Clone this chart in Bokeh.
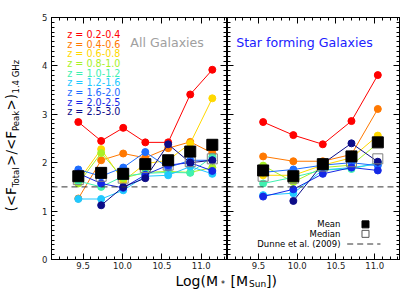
import math
import numpy as np
from bokeh.plotting import figure
from bokeh.layouts import row, column
from bokeh.models import (Range1d, LinearAxis, SingleIntervalTicker, Label, Span,
                          PrintfTickFormatter)
from bokeh.embed import file_html
from bokeh.resources import INLINE

FONT = "DejaVu Sans"
nan = float("nan")

# ---------------- data ----------------
z_labels = ["0.2-0.4", "0.4-0.6", "0.6-0.8", "0.8-1.0", "1.0-1.2",
            "1.2-1.6", "1.6-2.0", "2.0-2.5", "2.5-3.0"]
z_colors = ["#ff0000", "#ff7800", "#ffd800", "#a8f028", "#40f0b0",
            "#20c8ff", "#1e6eff", "#1428e6", "#0c0c88"]

# All galaxies (left panel)
x_all = [9.44, 9.73, 10.01, 10.29, 10.58, 10.86, 11.14]
all_z02_04 = [2.84, 2.45, 2.72, 2.42, 2.42, 3.41, 3.92]
all_z04_06 = [1.26, 2.05, 2.19, 2.10, 2.30, 2.43, 2.20]
all_z06_08 = [1.62, 2.28, 1.62, 1.98, 2.05, 2.40, 3.33]
all_z08_10 = [1.57, 2.20, 1.68, 1.80, 1.82, 1.80, 1.90]
all_z10_12 = [1.62, 1.50, 1.72, 1.78, 1.80, 1.79, 2.12]
all_z12_16 = [1.25, 1.25, 1.43, 1.72, 1.74, 1.92, 1.77]
all_z16_20 = [1.86, 1.72, 1.90, 2.22, 1.90, 2.05, 2.05]
all_z20_25 = [1.78, 1.57, 1.48, 1.75, 1.95, 2.00, 1.83]
all_z25_30 = [nan, 1.12, 1.50, 1.68, 2.38, 2.00, 2.05]
all_mean = [1.72, 1.79, 1.77, 1.97, 2.05, 2.23, 2.37]
all_median = [1.65, 1.72, 1.68, 1.90, 1.95, 2.02, 2.08]

# Star forming galaxies (right panel)
x_sf = [9.56, 9.95, 10.33, 10.70, 11.04]
sf_z02_04 = [2.84, 2.57, 2.38, 2.86, 3.81]
sf_z04_06 = [2.13, 2.03, 2.03, 2.17, 3.11]
sf_z06_08 = [1.74, 1.74, 1.95, 2.10, 2.56]
sf_z08_10 = [1.94, 1.60, 1.90, 1.95, 2.40]
sf_z10_12 = [1.57, 1.70, 1.85, 1.87, 2.00]
sf_z12_16 = [1.33, 1.37, 1.85, 1.90, 1.97]
sf_z16_20 = [1.80, 1.86, 1.95, 2.00, 1.94]
sf_z20_25 = [1.30, 1.45, 1.77, 1.90, 1.84]
sf_z25_30 = [nan, 1.21, 1.98, 2.40, 2.02]
sf_mean = [1.84, 1.72, 1.97, 2.13, 2.42]
sf_median = [1.72, 1.68, 1.93, 2.02, 2.08]

dunne_ratio = 1.5
x_ticks_interval = 0.5
y_ticks_interval = 1

all_series = [all_z02_04, all_z04_06, all_z06_08, all_z08_10, all_z10_12,
              all_z12_16, all_z16_20, all_z20_25, all_z25_30]
sf_series = [sf_z02_04, sf_z04_06, sf_z06_08, sf_z08_10, sf_z10_12,
             sf_z12_16, sf_z16_20, sf_z20_25, sf_z25_30]

X0, X1 = 9.1, 11.32
TICK_FS = "8.5px"
PANEL_H = 272


def make_axis(kind, labels):
    if kind == "x":
        ticker = SingleIntervalTicker(interval=x_ticks_interval, num_minor_ticks=5)
    else:
        ticker = SingleIntervalTicker(interval=y_ticks_interval, num_minor_ticks=10)
    ax = LinearAxis(ticker=ticker, major_tick_in=6, major_tick_out=0,
                    minor_tick_in=3, minor_tick_out=0,
                    axis_line_color="black", major_tick_line_color="black",
                    minor_tick_line_color="black")
    if kind == "x":
        ax.formatter = PrintfTickFormatter(format="%.1f")
    if labels:
        ax.major_label_text_font = FONT
        ax.major_label_text_font_size = TICK_FS
        ax.major_label_text_color = "#222222"
        ax.major_label_standoff = 2 if kind == "x" else 4
    else:
        ax.major_label_text_color = None
        ax.major_label_standoff = 0
    return ax


def panel(width, bl, br, xs, series, mean, median, left_labels):
    p = figure(width=width, height=PANEL_H, x_range=Range1d(X0, X1),
               y_range=Range1d(0, 5), output_backend="svg",
               toolbar_location=None, x_axis_location=None,
               y_axis_location=None, min_border_left=bl,
               min_border_right=br, min_border_top=17,
               min_border_bottom=PANEL_H - 259)
    p.grid.grid_line_color = None
    p.outline_line_color = "black"
    p.outline_line_width = 1
    p.background_fill_color = "white"
    p.border_fill_color = "white"
    p.add_layout(make_axis("x", True), "below")
    p.add_layout(make_axis("x", False), "above")
    p.add_layout(make_axis("y", left_labels), "left")
    p.add_layout(make_axis("y", False), "right")
    p.add_layout(Span(location=dunne_ratio, dimension="width",
                      line_color="#333333", line_dash="6 4", line_width=1))
    for ys, c in zip(series, z_colors):
        p.line(xs, ys, line_color=c, line_width=1)
        p.scatter(xs, ys, size=7, marker="circle", fill_color=c, line_color=c)
    p.scatter(xs, median, size=10, marker="square", fill_color=None,
              line_color="#7f7f7f", line_width=1)
    p.scatter(xs, mean, size=11, marker="square", fill_color="black",
              line_color="black")
    return p


def blank(width, height, x0, x1, y0, y1):
    b = figure(width=width, height=height, x_range=Range1d(x0, x1),
               y_range=Range1d(y0, y1), output_backend="svg",
               toolbar_location=None, x_axis_location=None,
               y_axis_location=None, min_border=0, min_border_left=0,
               min_border_right=0, min_border_top=0, min_border_bottom=0)
    b.grid.grid_line_color = None
    b.outline_line_color = None
    b.background_fill_color = "white"
    b.border_fill_color = "white"
    return b


P0_W = 24
p1 = panel(227 - P0_W, 51 - P0_W, 1, x_all, all_series, all_mean, all_median, True)
p2 = panel(180, 0, 8, x_sf, sf_series, sf_mean, sf_median, False)

# ---- left panel annotations ----
for i, (zl, c) in enumerate(zip(z_labels, z_colors)):
    p1.add_layout(Label(x=9.30, y=4.65 - 0.2 * i, text="z = " + zl,
                        text_font=FONT, text_font_size="9.6px",
                        text_color=c, text_baseline="middle"))
p1.add_layout(Label(x=10.10, y=4.49, text="All Galaxies", text_font=FONT,
                    text_font_size="12.6px", text_color="#a0a0a0",
                    text_baseline="middle"))

# ---- right panel annotations ----
p2.add_layout(Label(x=9.212, y=4.49, text="Star forming Galaxies",
                    text_font=FONT, text_font_size="12.6px",
                    text_color="#2020ff", text_baseline="middle"))
for t, yy in [("Mean", 0.726), ("Median", 0.53), ("Dunne et al. (2009)", 0.32)]:
    p2.add_layout(Label(x=10.558, y=yy, text=t, text_font=FONT,
                        text_font_size="8.5px", text_color="black",
                        text_align="right", text_baseline="middle"))
p2.scatter([10.881], [0.726], size=7, marker="square", fill_color="black",
           line_color="black")
p2.scatter([10.881], [0.53], size=7, marker="square", fill_color=None,
           line_color="#555555")
p2.line([10.645, 11.074], [0.32, 0.32], line_color="#333333",
        line_dash="6 4", line_width=1)

# ---- y axis title panel (pixel coordinates, y downward) ----
p0 = blank(P0_W, 289, 0, P0_W, 289, 0)
ylab_pieces = [("(<F", "13.5px", 10.8, 211.0),
               ("Total", "8.5px", 15.6, 186.7),
               (">/<F", "13.5px", 10.8, 165.4),
               ("Peak", "8.5px", 15.6, 130.5),
               (">)", "13.5px", 10.8, 110.0),
               ("1.4 GHz", "8.5px", 15.6, 93.0)]
for t, fs, xx, yy in ylab_pieces:
    p0.add_layout(Label(x=xx, y=yy, text=t, angle=math.pi / 2,
                        text_font=FONT, text_font_size=fs, text_color="black",
                        text_align="left", text_baseline="middle"))

# ---- x axis title panel (pixel coordinates, y downward) ----
p3 = blank(407 - P0_W, 289 - PANEL_H, P0_W, 407, 289, PANEL_H)
xlab_pieces = [("Log(M", "14px", 175.0, 280.5),
               ("*", "8px", 220.5, 284.3),
               ("[M", "14px", 230.0, 280.5),
               ("Sun", "9px", 248.5, 283.7),
               ("])", "14px", 265.5, 280.5)]
for t, fs, xx, yy in xlab_pieces:
    p3.add_layout(Label(x=xx, y=yy, text=t, text_font=FONT, text_font_size=fs,
                        text_color="black", text_baseline="middle"))

layout = row(p0, column(row(p1, p2), p3))
open("out.html", "w").write(file_html(layout, INLINE))
